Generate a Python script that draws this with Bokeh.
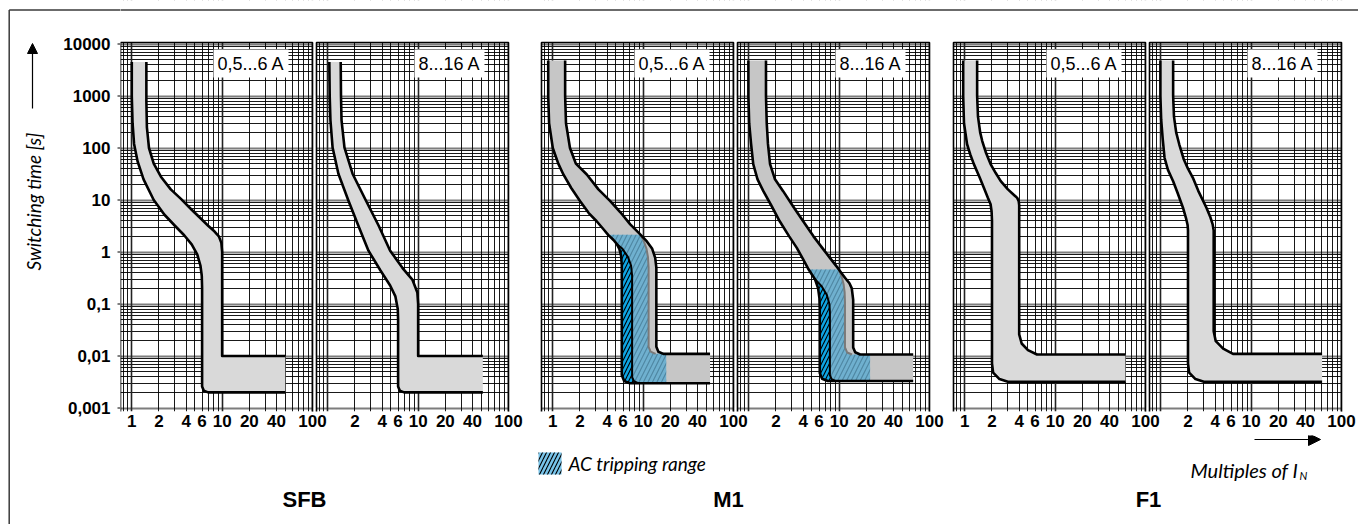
import math
from bokeh.plotting import figure
from bokeh.layouts import row, column
from bokeh.models import (Range1d, LogScale, FixedTicker, Grid, CustomJSTickFormatter,
                          Label, Arrow, NormalHead)
from bokeh.core.properties import value
from bokeh.embed import file_html
from bokeh.resources import INLINE

# ---------------- data ----------------
y_ticks = [0.001, 0.01, 0.1, 1, 10, 100, 1000, 10000]
y_tick_labels = ["0,001", "0,01", "0,1", "1", "10", "100", "1000", "10000"]
y_minor = [k * 10.0 ** n for n in range(-3, 4) for k in range(2, 10)]

x_ticks_first = [1, 2, 4, 6, 10, 20, 40, 100]
x_labels_first = ["1", "2", "4", "6", "10", "20", "40", "100"]
x_ticks_next = [2, 4, 6, 10, 20, 40, 100]
x_labels_next = ["2", "4", "6", "10", "20", "40", "100"]
x_grid_major = [1, 10, 100]
x_grid_minor = [0.8, 0.9, 2, 3, 4, 5, 6, 7, 8, 9, 20, 30, 40, 50, 60, 70, 80, 90]

group_titles = ["SFB", "M1", "F1"]
range_labels = ["0,5...6 A", "8...16 A"]

# SFB 0,5...6 A
sfb1_lower_x = [1.00, 1.00, 1.02, 1.06, 1.16, 1.35, 1.75, 2.3, 3.0, 3.8, 4.6, 5.3, 5.75, 5.95, 6.0, 6.0, 6.27, 7.0, 50]
sfb1_lower_y = [4500, 1000, 300, 120, 55, 25, 10, 5.2, 3.2, 2.1, 1.4, 0.9, 0.55, 0.35, 0.2, 0.0026, 0.00215, 0.002, 0.002]
sfb1_upper_x = [1.45, 1.45, 1.47, 1.55, 1.75, 2.1, 2.7, 3.5, 4.6, 5.8, 7.0, 8.2, 9.2, 9.8, 10.0, 10.0, 50]
sfb1_upper_y = [4500, 800, 250, 100, 50, 28, 16, 10.5, 6.5, 4.4, 3.2, 2.5, 2.0, 1.5, 1.0, 0.01, 0.01]
# SFB 8...16 A
sfb2_lower_x = [1.04, 1.05, 1.07, 1.13, 1.31, 1.69, 2.18, 2.82, 3.83, 4.9, 5.6, 5.95, 6.0, 6.0, 6.27, 7.0, 52]
sfb2_lower_y = [4500, 1000, 340, 102, 32, 9.8, 3.2, 1.06, 0.44, 0.227, 0.14, 0.08, 0.05, 0.0026, 0.00215, 0.002, 0.002]
sfb2_upper_x = [1.39, 1.40, 1.42, 1.53, 1.88, 2.64, 3.66, 4.9, 6.72, 8.67, 9.8, 10.0, 10.0, 52]
sfb2_upper_y = [4500, 1000, 340, 102, 32, 9.8, 3.2, 1.06, 0.49, 0.29, 0.166, 0.1, 0.01, 0.01]
# M1 0,5...6 A
m11_lower_x = [0.89, 0.89, 0.91, 1.0, 1.15, 1.31, 1.6, 2.0, 2.5, 3.06, 3.6, 4.1, 4.7, 5.1, 5.45, 5.7, 5.8, 5.8, 6.16, 7.12, 55]
m11_lower_y = [4800, 1000, 300, 100, 50, 31, 17, 9.6, 5.6, 3.9, 2.8, 2.14, 1.7, 1.43, 1.15, 0.85, 0.55, 0.0043, 0.0033, 0.003, 0.003]
m11_upper_x = [1.37, 1.37, 1.4, 1.55, 1.8, 2.38, 3.2, 4.3, 5.6, 7.2, 9.0, 11.0, 12.6, 13.6, 14.0, 14.0, 14.74, 16.75, 55]
m11_upper_y = [4800, 1000, 300, 100, 50, 31, 16, 9.6, 5.8, 3.4, 2.3, 1.6, 1.15, 0.77, 0.5, 0.015, 0.0121, 0.011, 0.011]
m11_ac_x = [9.3, 10.2, 10.9, 11.3, 11.5, 11.5, 12.1, 13.75]
m11_ac_y = [2.14, 1.6, 1.15, 0.8, 0.5, 0.015, 0.0121, 0.011]
m11_inner_x = [5.1, 5.9, 6.8, 7.35, 7.55, 7.55, 7.9, 8.8]
m11_inner_y = [1.43, 1.15, 0.8, 0.55, 0.35, 0.0039, 0.0033, 0.003]
m11_ac_end = 18
# M1 8...16 A
m12_lower_x = [0.99, 0.99, 1.01, 1.06, 1.12, 1.25, 1.45, 1.8, 2.2, 2.8, 3.4, 4.0, 4.6, 5.4, 5.85, 6.05, 6.1, 6.1, 6.48, 7.49, 66]
m12_lower_y = [4800, 1000, 300, 120, 49, 25, 14.8, 7.5, 3.9, 2.0, 1.2, 0.72, 0.46, 0.3, 0.2, 0.13, 0.08, 0.0047, 0.00365, 0.0033, 0.0033]
m12_upper_x = [1.55, 1.55, 1.58, 1.63, 1.72, 1.95, 2.4, 3.1, 4.0, 5.2, 6.5, 7.9, 9.6, 11.6, 13.0, 13.8, 14.3, 14.3, 15.05, 17.1, 66]
m12_upper_y = [4800, 1000, 300, 120, 49, 25, 14.8, 7.5, 3.9, 2.0, 1.2, 0.77, 0.5, 0.32, 0.25, 0.2, 0.12, 0.0146, 0.0118, 0.0107, 0.0107]
m12_ac_x = [9.9, 10.7, 11.2, 11.5, 11.6, 11.6, 12.26, 13.9]
m12_ac_y = [0.46, 0.33, 0.24, 0.17, 0.11, 0.0146, 0.0117, 0.0107]
m12_inner_x = [5.4, 6.4, 7.3, 7.8, 7.9, 7.9, 8.25, 9.2]
m12_inner_y = [0.3, 0.22, 0.15, 0.1, 0.07, 0.0043, 0.0036, 0.0033]
m12_ac_end = 22
# F1 0,5...6 A
f11_lower_x = [0.96, 0.96, 0.98, 1.06, 1.15, 1.26, 1.45, 1.63, 1.8, 1.93, 1.98, 2.0, 2.0, 2.06, 2.42, 3.0, 60]
f11_lower_y = [4800, 1000, 300, 118, 75, 49, 28, 17, 11, 8.3, 6.0, 4.0, 0.0072, 0.0048, 0.0036, 0.0032, 0.0032]
f11_upper_x = [1.37, 1.37, 1.4, 1.48, 1.56, 1.72, 1.93, 2.2, 2.5, 3.0, 3.5, 3.8, 3.95, 4.0, 4.0, 4.26, 5.0, 6.3, 60]
f11_upper_y = [4800, 1000, 400, 200, 136, 80, 49, 33, 23, 16, 12.5, 11, 9.5, 8.0, 0.026, 0.0174, 0.013, 0.0107, 0.0107]
# F1 8...16 A
f12_lower_x = [0.99, 0.99, 1.01, 1.05, 1.1, 1.2, 1.37, 1.55, 1.76, 1.9, 1.98, 2.0, 2.0, 2.06, 2.42, 3.0, 61]
f12_lower_y = [4800, 1000, 350, 150, 65, 38, 23, 13, 7.1, 4.5, 3.3, 2.6, 0.0072, 0.0048, 0.0036, 0.0032, 0.0032]
f12_upper_x = [1.37, 1.37, 1.4, 1.48, 1.6, 1.8, 2.0, 2.26, 2.6, 3.2, 3.55, 3.75, 3.85, 3.85, 4.06, 4.9, 6.3, 61]
f12_upper_y = [4800, 1000, 400, 200, 118, 60, 40, 27, 15, 7.1, 4.6, 3.4, 2.6, 0.03, 0.0193, 0.0139, 0.011, 0.011]

# ---------------- layout / style ----------------
PAGE_W, PAGE_H = 1358, 524
LEFT_W = 120                 # left strip (y labels, title)
MAIN_H = 435                 # main plot height (frame + x labels)
FRAME_W = PAGE_W - LEFT_W    # 1238
FRAME_H = 411
PANEL_W = 192
panel_offsets = [0, 196, 421, 617, 833, 1029]
X_LO, X_HI = 0.75, 100.0
DX = PANEL_W / math.log10(X_HI / X_LO)
DY = 52.0
Y_10K_PX = 43.5
Y_TOPF = 10 ** (4 + Y_10K_PX / DY)          # value at page y = 0
Y_BOT = Y_TOPF / 10 ** (FRAME_H / DY)        # value at frame bottom
PANEL_TOP = 10 ** (4 + 1.5 / DY)


def yv(py):
    return Y_TOPF * 10 ** (-py / DY)


SFB_FILL, M1_FILL, F1_FILL = "#d9d9d9", "#c6c6c6", "#dadada"
AC_FILL, AC_HATCH = "#6fb0cf", "#4f87a3"
ACD_FILL = "#0ea5e4"
BORDER = "#3a3a3a"

panels = [
    dict(name="default", lower=(sfb1_lower_x, sfb1_lower_y), upper=(sfb1_upper_x, sfb1_upper_y), fill=SFB_FILL,
         label=range_labels[0], ticks=(x_ticks_first, x_labels_first)),
    dict(name="p2", lower=(sfb2_lower_x, sfb2_lower_y), upper=(sfb2_upper_x, sfb2_upper_y), fill=SFB_FILL,
         label=range_labels[1], ticks=(x_ticks_next, x_labels_next)),
    dict(name="p3", lower=(m11_lower_x, m11_lower_y), upper=(m11_upper_x, m11_upper_y), fill=M1_FILL,
         label=range_labels[0], ticks=(x_ticks_first, x_labels_first),
         ac=(m11_ac_x, m11_ac_y), inner=(m11_inner_x, m11_inner_y), ac_end=m11_ac_end),
    dict(name="p4", lower=(m12_lower_x, m12_lower_y), upper=(m12_upper_x, m12_upper_y), fill=M1_FILL,
         label=range_labels[1], ticks=(x_ticks_next, x_labels_next),
         ac=(m12_ac_x, m12_ac_y), inner=(m12_inner_x, m12_inner_y), ac_end=m12_ac_end),
    dict(name="p5", lower=(f11_lower_x, f11_lower_y), upper=(f11_upper_x, f11_upper_y), fill=F1_FILL,
         label=range_labels[0], ticks=(x_ticks_first, x_labels_first)),
    dict(name="p6", lower=(f12_lower_x, f12_lower_y), upper=(f12_upper_x, f12_upper_y), fill=F1_FILL,
         label=range_labels[1], ticks=(x_ticks_next, x_labels_next)),
]

# ---------------- main figure (all six panels) ----------------
x0_end = X_LO * 10 ** (FRAME_W / DX)
p = figure(frame_width=FRAME_W, frame_height=FRAME_H,
           x_axis_type="log", y_axis_type="log", y_axis_location=None,
           x_range=Range1d(X_LO, x0_end), y_range=Range1d(Y_BOT, Y_TOPF),
           min_border_left=0, min_border_right=0, min_border_top=0, min_border_bottom=MAIN_H - FRAME_H,
           output_backend="svg", toolbar_location=None)
p.outline_line_color = None
p.background_fill_color = "white"
p.border_fill_color = "white"
p.grid.visible = False

extra_r, extra_s = {}, {}
for pn, off in zip(panels[1:], panel_offsets[1:]):
    s = X_LO * 10 ** (-off / DX)
    extra_r[pn["name"]] = Range1d(s, s * 10 ** (FRAME_W / DX))
    extra_s[pn["name"]] = LogScale()
p.extra_x_ranges = extra_r
p.extra_x_scales = extra_s

# grids
p.add_layout(Grid(dimension=1, ticker=FixedTicker(ticks=y_ticks, minor_ticks=y_minor),
                  grid_line_color="#7d7d7d", grid_line_width=2.2,
                  minor_grid_line_color="black", minor_grid_line_width=1, minor_grid_line_alpha=0.9))
for pn in panels:
    p.add_layout(Grid(dimension=0, x_range_name=pn["name"],
                      ticker=FixedTicker(ticks=x_grid_major, minor_ticks=x_grid_minor),
                      grid_line_color="#222222", grid_line_width=1.6,
                      minor_grid_line_color="black", minor_grid_line_width=1, minor_grid_line_alpha=0.9))

# white areas outside the panels
gap_l = [X_HI * 10 ** (o / DX) for o in panel_offsets] + [X_LO / 10]
gap_r = [X_LO * 10 ** (o / DX) for o in panel_offsets[1:]] + [x0_end * 10, x0_end * 10]
gap_b = [Y_BOT / 10] * (len(panel_offsets) - 1) + [Y_BOT / 10, PANEL_TOP]
gap_t = [Y_TOPF * 10] * (len(panel_offsets) + 1)
p.quad(left=gap_l, right=gap_r, bottom=gap_b, top=gap_t, fill_color="white", line_color=None)

# outer top border line
p.line([X_LO / 10, x0_end * 10], [yv(9.5), yv(9.5)], line_color=BORDER, line_width=1.5)

for pn in panels:
    nm = pn["name"]
    p.quad(left=X_LO, right=X_HI, bottom=Y_BOT / 10, top=PANEL_TOP, fill_color=None,
           line_color="black", line_width=1.6, x_range_name=nm)
    lx, ly = pn["lower"]
    ux, uy = pn["upper"]
    p.patch(list(lx) + list(ux)[::-1], list(ly) + list(uy)[::-1], x_range_name=nm,
            fill_color=pn["fill"], line_color=None)
    if "ac" in pn:
        ax, ay = pn["ac"]
        ix, iy = pn["inner"]
        end = pn["ac_end"]
        pts = [(x, y) for x, y in zip(lx, ly) if y <= ay[0] and x <= end]
        p.patch([q[0] for q in pts] + [end, end] + list(ax)[::-1],
                [q[1] for q in pts] + [ly[-1], uy[-1]] + list(ay)[::-1],
                x_range_name=nm, fill_color=AC_FILL, line_color=None,
                hatch_pattern="/", hatch_color=AC_HATCH, hatch_scale=9, hatch_weight=1.2)
        pts2 = [(x, y) for x, y in zip(lx, ly) if y <= iy[0] and x < ix[-1]]
        p.patch([q[0] for q in pts2] + list(ix)[::-1],
                [q[1] for q in pts2] + list(iy)[::-1],
                x_range_name=nm, fill_color=ACD_FILL, line_color=None,
                hatch_pattern="/", hatch_color="black", hatch_scale=8, hatch_weight=1.1)
        p.line(ax, ay, x_range_name=nm, line_color="#7a7a7a", line_width=2)
        p.line(ix, iy, x_range_name=nm, line_color="black", line_width=2)
    p.line(lx, ly, x_range_name=nm, line_color="black", line_width=2.6, line_join="round")
    p.line(ux, uy, x_range_name=nm, line_color="black", line_width=2.6, line_join="round")
    p.add_layout(Label(x=X_HI * 10 ** (-24 / DX), y=yv(63), x_range_name=nm, text=pn["label"],
                       text_font="Liberation Sans", text_font_size="18px", text_color="black",
                       text_align="right", text_baseline="middle",
                       background_fill_color="white", padding=4))

# x axis (one axis, ticks of all six panels)
x_pos, x_txt = [], []
for pn, off in zip(panels, panel_offsets):
    vals, labs = pn["ticks"]
    for v, t in zip(vals, labs):
        x_pos.append(v * 10 ** (off / DX))
        x_txt.append(t)
xax = p.xaxis[0]
xax.ticker = FixedTicker(ticks=x_pos)
xax.formatter = CustomJSTickFormatter(args=dict(labels=x_txt), code="return labels[index];")
xax.axis_line_color = None
xax.major_tick_out = 0
xax.major_tick_in = 0
xax.major_tick_line_color = None
xax.minor_tick_line_color = None
xax.major_label_standoff = 3
xax.major_label_text_font = "Liberation Sans"
xax.major_label_text_font_style = "bold"
xax.major_label_text_font_size = "17px"
xax.major_label_text_color = "black"

# ---------------- left strip: y labels, y title ----------------
lf = figure(width=LEFT_W, height=PAGE_H, x_range=Range1d(0, LEFT_W),
            y_range=Range1d(yv(PAGE_H), yv(0)), y_axis_type="log",
            x_axis_location=None, y_axis_location=None, min_border=0,
            output_backend="svg", toolbar_location=None)
lf.outline_line_color = None
lf.grid.visible = False
lf.background_fill_color = "white"
lf.text(x=[110] * len(y_ticks), y=y_ticks, text=y_tick_labels,
        text_font=value("Liberation Sans"), text_font_style="bold", text_font_size="17px",
        text_align="right", text_baseline="middle", text_color="black")
lf.segment(x0=[117] * len(y_ticks), x1=[120] * len(y_ticks), y0=y_ticks, y1=y_ticks,
           line_color="black", line_width=1)
lf.line([8.7, 8.7], [yv(9.5), yv(PAGE_H + 10)], line_color=BORDER, line_width=1.5)
lf.line([8.7, LEFT_W], [yv(9.5), yv(9.5)], line_color=BORDER, line_width=1.5)
lf.add_layout(Arrow(end=NormalHead(size=10, fill_color="black", line_color="black"),
                    x_start=32, y_start=yv(108), x_end=32, y_end=yv(43),
                    line_color="black", line_width=1.2))
lf.text(x=[33], y=[yv(201)], text=["Switching time [s]"], angle=math.pi / 2,
        text_font=value("Lato"), text_font_style="italic", text_font_size="19px",
        text_align="center", text_baseline="middle", text_color="black")

# ---------------- bottom strip: titles, legend, x title ----------------
BOT_H = PAGE_H - MAIN_H
bf = figure(width=FRAME_W, height=BOT_H, x_range=Range1d(LEFT_W, PAGE_W),
            y_range=Range1d(PAGE_H, MAIN_H),
            x_axis_location=None, y_axis_location=None, min_border=0,
            output_backend="svg", toolbar_location=None)
bf.outline_line_color = None
bf.grid.visible = False
bf.background_fill_color = "white"
bf.text(x=[304, 728, 1148], y=[499, 499, 499], text=group_titles,
        text_font=value("Liberation Sans"), text_font_style="bold", text_font_size="22px",
        text_align="center", text_baseline="middle", text_color="black")
bf.quad(left=[538], right=[561], top=[452], bottom=[474], fill_color="#78c4ea", line_color=None,
        hatch_pattern="/", hatch_color="black", hatch_scale=8, hatch_weight=1.1)
bf.text(x=[568], y=[463], text=["AC tripping range"],
        text_font=value("Lato"), text_font_style="italic", text_font_size="19px",
        text_align="left", text_baseline="middle", text_color="black")
bf.text(x=[1190], y=[469], text=["Multiples of I"],
        text_font=value("Lato"), text_font_style="italic", text_font_size="20px",
        text_align="left", text_baseline="alphabetic", text_color="black")
bf.text(x=[1299], y=[475], text=["N"],
        text_font=value("Lato"), text_font_style="italic", text_font_size="11px",
        text_align="left", text_baseline="alphabetic", text_color="black")
bf.add_layout(Arrow(end=NormalHead(size=12, fill_color="black", line_color="black"),
                    x_start=1254, y_start=439, x_end=1320, y_end=439,
                    line_color="black", line_width=1.2))

layout = row(lf, column(p, bf))
open("out.html", "w").write(file_html(layout, INLINE))
